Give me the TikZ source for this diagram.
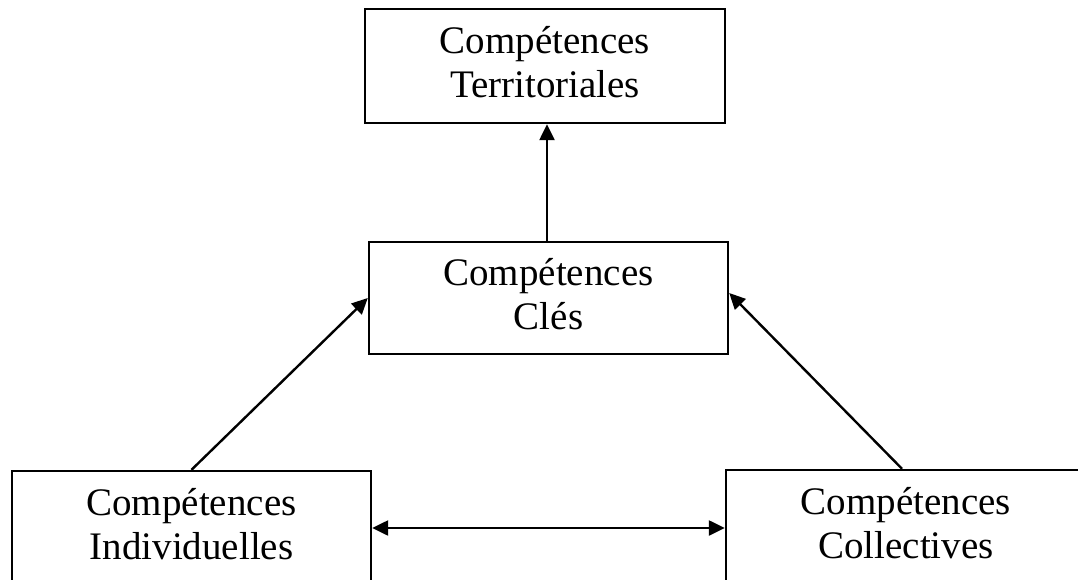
\documentclass[tikz,border=0pt]{standalone}
\usepackage{fontspec}
\setmainfont{Liberation Serif}
\usetikzlibrary{arrows.meta}
\begin{document}
\begin{tikzpicture}[x=1pt,y=-1pt,
  compbox/.style={draw,line width=2.4pt,rectangle,inner sep=0pt},
  boxtext/.style={align=center,inner sep=0pt,yshift=4pt,
    font=\fontsize{39}{43.5}\selectfont},
  link/.style={line width=2.4pt,-{Triangle[length=16pt,width=15pt]}},
  twolink/.style={line width=2.4pt,{Triangle[length=16pt,width=15pt]}-{Triangle[length=16pt,width=15pt]}}]
  \clip (0,0) rectangle (1078,580);
  \useasboundingbox (0,0) rectangle (1078,580);
  % the four boxes, each with its two-line caption
  \node[compbox,minimum width=360pt,minimum height=114pt,
    label={[boxtext]center:Compétences\\Territoriales}] (ter) at (545,66) {};
  \node[compbox,minimum width=359pt,minimum height=112pt,
    label={[boxtext]center:Compétences\\Clés}] (cle) at (548.5,298) {};
  \node[compbox,minimum width=359pt,minimum height=114pt,
    label={[boxtext]center:Compétences\\Individuelles}] (ind) at (191.5,528) {};
  \node[compbox,minimum width=360pt,minimum height=114pt,
    label={[boxtext]center:Compétences\\Collectives}] (col) at (906,527) {};
  % connectors
  \draw[link] ([xshift=-1.5pt]cle.north) -- ([xshift=-1.5pt]cle.north |- ter.south);
  \draw[link] (ind.north) -- (cle.west);
  \draw[link] ([xshift=-4pt]col.north) -- ([yshift=5pt]cle.east);
  \draw[twolink] (ind.east) -- (ind.east -| col.west);
\end{tikzpicture}
\end{document}
